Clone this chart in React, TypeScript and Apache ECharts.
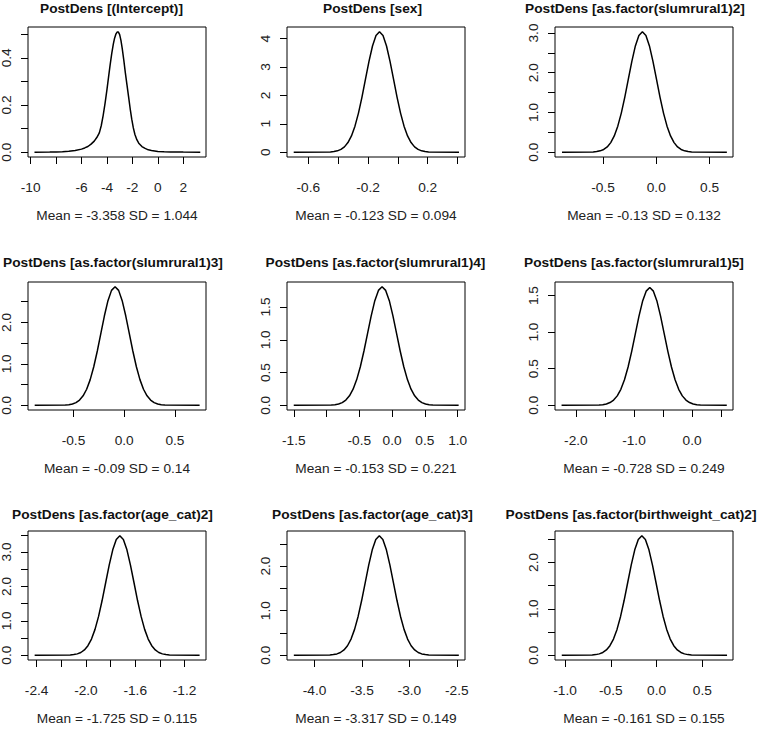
import React, { useEffect, useRef } from "react";
import * as echarts from "echarts";

// ---------- data ----------
const panelTitles = [
  "PostDens [(Intercept)]",
  "PostDens [sex]",
  "PostDens [as.factor(slumrural1)2]",
  "PostDens [as.factor(slumrural1)3]",
  "PostDens [as.factor(slumrural1)4]",
  "PostDens [as.factor(slumrural1)5]",
  "PostDens [as.factor(age_cat)2]",
  "PostDens [as.factor(age_cat)3]",
  "PostDens [as.factor(birthweight_cat)2]",
];

const meanLabels = [
  "Mean = -3.358 SD = 1.044",
  "Mean = -0.123 SD = 0.094",
  "Mean = -0.13 SD = 0.132",
  "Mean = -0.09 SD = 0.14",
  "Mean = -0.153 SD = 0.221",
  "Mean = -0.728 SD = 0.249",
  "Mean = -1.725 SD = 0.115",
  "Mean = -3.317 SD = 0.149",
  "Mean = -0.161 SD = 0.155",
];

const curveIntercept = [
  [-9.7, 0], [-8.5, 0.0005], [-8, 0.001], [-7.5, 0.002], [-7, 0.004], [-6.5, 0.007],
  [-6, 0.013], [-5.75, 0.018], [-5.5, 0.024], [-5.25, 0.034], [-5, 0.047], [-4.8, 0.062],
  [-4.6, 0.082], [-4.45, 0.112], [-4.3, 0.155], [-4.15, 0.207], [-4.0, 0.265],
  [-3.875, 0.318], [-3.75, 0.37], [-3.625, 0.418], [-3.5, 0.458], [-3.4, 0.483],
  [-3.3, 0.5], [-3.2, 0.509], [-3.1, 0.509], [-3.0, 0.498], [-2.9, 0.474],
  [-2.8, 0.44], [-2.675, 0.39], [-2.55, 0.335], [-2.425, 0.285], [-2.3, 0.235],
  [-2.175, 0.185], [-2.05, 0.14], [-1.925, 0.103], [-1.8, 0.075], [-1.65, 0.053],
  [-1.5, 0.038], [-1.25, 0.024], [-1.0, 0.016], [-0.75, 0.01], [-0.5, 0.007],
  [0, 0.003], [0.5, 0.0015], [1, 0.001], [2, 0.0003], [3.34, 0],
];
const curveSex = [
  [-0.698, 0], [-0.452, 0.009], [-0.4285, 0.022], [-0.405, 0.047], [-0.3815, 0.097],
  [-0.358, 0.186], [-0.3345, 0.338], [-0.311, 0.574], [-0.2875, 0.917], [-0.264, 1.377],
  [-0.2405, 1.941], [-0.217, 2.572], [-0.1935, 3.2], [-0.17, 3.742], [-0.1465, 4.109],
  [-0.123, 4.24], [-0.0995, 4.109], [-0.076, 3.742], [-0.0525, 3.2], [-0.029, 2.572],
  [-0.0055, 1.941], [0.018, 1.377], [0.0415, 0.917], [0.065, 0.574], [0.0885, 0.338],
  [0.112, 0.186], [0.1355, 0.097], [0.159, 0.047], [0.1825, 0.022], [0.206, 0.009],
  [0.41, 0],
];
const curveSlum2 = [
  [-0.884, 0], [-0.592, 0.007], [-0.559, 0.015], [-0.526, 0.034], [-0.493, 0.069],
  [-0.46, 0.133], [-0.427, 0.241], [-0.394, 0.41], [-0.361, 0.655], [-0.328, 0.984],
  [-0.295, 1.387], [-0.262, 1.838], [-0.229, 2.287], [-0.196, 2.674], [-0.163, 2.937],
  [-0.13, 3.03], [-0.097, 2.937], [-0.064, 2.674], [-0.031, 2.287], [0.002, 1.838],
  [0.035, 1.387], [0.068, 0.984], [0.101, 0.655], [0.134, 0.41], [0.167, 0.241],
  [0.2, 0.133], [0.233, 0.069], [0.266, 0.034], [0.299, 0.015], [0.332, 0.007],
  [0.6625, 0],
];
const curveSlum3 = [
  [-0.882, 0], [-0.58, 0.006], [-0.545, 0.015], [-0.51, 0.032], [-0.475, 0.065],
  [-0.44, 0.126], [-0.405, 0.228], [-0.37, 0.387], [-0.335, 0.619], [-0.3, 0.929],
  [-0.265, 1.309], [-0.23, 1.735], [-0.195, 2.159], [-0.16, 2.524], [-0.125, 2.772],
  [-0.09, 2.86], [-0.055, 2.772], [-0.02, 2.524], [0.015, 2.159], [0.05, 1.735],
  [0.085, 1.309], [0.12, 0.929], [0.155, 0.619], [0.19, 0.387], [0.225, 0.228],
  [0.26, 0.126], [0.295, 0.065], [0.33, 0.032], [0.365, 0.015], [0.4, 0.006],
  [0.743, 0],
];
const curveSlum4 = [
  [-1.5, 0], [-0.9265, 0.004], [-0.8713, 0.009], [-0.816, 0.02], [-0.7608, 0.041],
  [-0.7055, 0.08], [-0.6503, 0.144], [-0.595, 0.245], [-0.5398, 0.392], [-0.4845, 0.588],
  [-0.4293, 0.829], [-0.374, 1.098], [-0.3188, 1.366], [-0.2635, 1.597], [-0.2083, 1.754],
  [-0.153, 1.81], [-0.0978, 1.754], [-0.0425, 1.597], [0.0128, 1.366], [0.068, 1.098],
  [0.1233, 0.829], [0.1785, 0.588], [0.2338, 0.392], [0.289, 0.245], [0.3443, 0.144],
  [0.3995, 0.08], [0.4548, 0.041], [0.51, 0.02], [0.5653, 0.009], [0.6205, 0.004],
  [1.015, 0],
];
const curveSlum5 = [
  [-2.247, 0], [-1.6, 0.0035], [-1.5373, 0.008], [-1.475, 0.018], [-1.4128, 0.037],
  [-1.3505, 0.071], [-1.2883, 0.128], [-1.226, 0.218], [-1.1638, 0.348], [-1.1015, 0.523],
  [-1.0393, 0.737], [-0.977, 0.977], [-0.9148, 1.215], [-0.8525, 1.421], [-0.7903, 1.56],
  [-0.728, 1.61], [-0.6658, 1.56], [-0.6035, 1.421], [-0.5413, 1.215], [-0.479, 0.977],
  [-0.4168, 0.737], [-0.3545, 0.523], [-0.2923, 0.348], [-0.23, 0.218], [-0.1678, 0.128],
  [-0.1055, 0.071], [-0.0433, 0.037], [0.019, 0.018], [0.0813, 0.008], [0.1435, 0.0035],
  [0.598, 0],
];
const curveAge2 = [
  [-2.416, 0], [-2.1275, 0.008], [-2.0988, 0.018], [-2.07, 0.039], [-2.0413, 0.079],
  [-2.0125, 0.152], [-1.9838, 0.276], [-1.955, 0.47], [-1.9263, 0.751], [-1.8975, 1.127],
  [-1.8688, 1.589], [-1.84, 2.105], [-1.8113, 2.619], [-1.7825, 3.062], [-1.7538, 3.363],
  [-1.725, 3.47], [-1.6963, 3.363], [-1.6675, 3.062], [-1.6388, 2.619], [-1.61, 2.105],
  [-1.5813, 1.589], [-1.5525, 1.127], [-1.5238, 0.751], [-1.495, 0.47], [-1.4663, 0.276],
  [-1.4375, 0.152], [-1.4088, 0.079], [-1.38, 0.039], [-1.3513, 0.018], [-1.3225, 0.008],
  [-1.078, 0],
];
const curveAge3 = [
  [-4.218, 0], [-3.8385, 0.006], [-3.8013, 0.014], [-3.764, 0.03], [-3.7268, 0.061],
  [-3.6895, 0.118], [-3.6523, 0.213], [-3.615, 0.363], [-3.5778, 0.58], [-3.5405, 0.87],
  [-3.5033, 1.227], [-3.466, 1.625], [-3.4288, 2.023], [-3.3915, 2.365], [-3.3543, 2.598],
  [-3.317, 2.68], [-3.2798, 2.598], [-3.2425, 2.365], [-3.2053, 2.023], [-3.168, 1.625],
  [-3.1308, 1.227], [-3.0935, 0.87], [-3.0563, 0.58], [-3.019, 0.363], [-2.9818, 0.213],
  [-2.9445, 0.118], [-2.9073, 0.061], [-2.87, 0.03], [-2.8328, 0.014], [-2.7955, 0.006],
  [-2.479, 0],
];
const curveBirth2 = [
  [-1.036, 0], [-0.7035, 0.006], [-0.6648, 0.013], [-0.626, 0.029], [-0.5873, 0.059],
  [-0.5485, 0.113], [-0.5098, 0.205], [-0.471, 0.348], [-0.4323, 0.557], [-0.3935, 0.836],
  [-0.3548, 1.179], [-0.316, 1.562], [-0.2773, 1.944], [-0.2385, 2.272], [-0.1998, 2.496],
  [-0.161, 2.575], [-0.1223, 2.496], [-0.0835, 2.272], [-0.0448, 1.944], [-0.006, 1.562],
  [0.0328, 1.179], [0.0715, 0.836], [0.1103, 0.557], [0.149, 0.348], [0.1878, 0.205],
  [0.2265, 0.113], [0.2653, 0.059], [0.304, 0.029], [0.3428, 0.013], [0.3815, 0.006],
  [0.77, 0],
];
const curves = [
  curveIntercept, curveSex, curveSlum2, curveSlum3, curveSlum4,
  curveSlum5, curveAge2, curveAge3, curveBirth2,
];

// axis ranges (R: data range extended by 4%)
const xRanges = [
  [-10.21, 3.79], [-0.743, 0.45], [-0.95, 0.72], [-0.948, 0.806], [-1.603, 1.112],
  [-2.36, 0.705], [-2.47, -1.026], [-4.29, -2.414], [-1.11, 0.835],
];
const yRanges = [
  [-0.0204, 0.5304], [-0.17, 4.41], [-0.121, 3.151], [-0.114, 2.974], [-0.072, 1.882],
  [-0.065, 1.685], [-0.139, 3.609], [-0.107, 2.787], [-0.103, 2.678],
];

// ticks and labels
const xTicks = [
  [-10, -8, -6, -4, -2, 0, 2],
  [-0.6, -0.4, -0.2, 0, 0.2, 0.4],
  [-0.5, 0, 0.5],
  [-0.5, 0, 0.5],
  [-1.5, -1.0, -0.5, 0, 0.5, 1.0],
  [-2.0, -1.5, -1.0, -0.5, 0, 0.5],
  [-2.4, -2.2, -2.0, -1.8, -1.6, -1.4, -1.2],
  [-4.0, -3.5, -3.0, -2.5],
  [-1.0, -0.5, 0, 0.5],
];
const xLabels = [
  [-10, -6, -4, -2, 0, 2],
  [-0.6, -0.2, 0.2],
  [-0.5, 0, 0.5],
  [-0.5, 0, 0.5],
  [-1.5, -0.5, 0, 0.5, 1.0],
  [-2.0, -1.0, 0],
  [-2.4, -2.0, -1.6, -1.2],
  [-4.0, -3.5, -3.0, -2.5],
  [-1.0, -0.5, 0, 0.5],
];
const xDecimals = [0, 1, 1, 1, 1, 1, 1, 1, 1];
const yTicks = [
  [0, 0.1, 0.2, 0.3, 0.4, 0.5],
  [0, 1, 2, 3, 4],
  [0, 0.5, 1.0, 1.5, 2.0, 2.5, 3.0],
  [0, 0.5, 1.0, 1.5, 2.0, 2.5],
  [0, 0.5, 1.0, 1.5],
  [0, 0.5, 1.0, 1.5],
  [0, 0.5, 1.0, 1.5, 2.0, 2.5, 3.0, 3.5],
  [0, 0.5, 1.0, 1.5, 2.0, 2.5],
  [0, 0.5, 1.0, 1.5, 2.0, 2.5],
];
const yLabels = [
  [0, 0.2, 0.4],
  [0, 1, 2, 3, 4],
  [0, 1.0, 2.0, 3.0],
  [0, 1.0, 2.0],
  [0, 0.5, 1.0, 1.5],
  [0, 0.5, 1.0, 1.5],
  [0, 1.0, 2.0, 3.0],
  [0, 1.0, 2.0],
  [0, 1.0, 2.0],
];
const yDecimals = [1, 0, 1, 1, 1, 1, 1, 1, 1];

// ---------- layout ----------
const COL_LEFT = [28, 287, 555];
const BOX_W = 178;
const ROW_TOP = [27, 282, 531];
const ROW_H = [130, 128, 129];
const TITLE_X = [111.5, 372.5, 635, 113, 375.5, 634, 112.5, 372.5, 631];
const TITLE_Y = [8, 262.5, 514];
const FONT = "'Liberation Sans', Arial, Helvetica, sans-serif";
const FS = 13.7;
const TEXT = "#222";

export default function App() {
  const ref = useRef<HTMLDivElement>(null);
  useEffect(() => {
    if (!ref.current) return;
    const chart = echarts.init(ref.current, null, { renderer: "svg", width: 760, height: 729 });
    const grid: any[] = [];
    const xAxis: any[] = [];
    const yAxis: any[] = [];
    const series: any[] = [];
    const graphic: any[] = [];
    for (let i = 0; i < 9; i++) {
      const r = Math.floor(i / 3);
      const c = i % 3;
      grid.push({
        left: COL_LEFT[c], top: ROW_TOP[r], width: BOX_W, height: ROW_H[r],
        show: true, borderColor: "#000", borderWidth: 1, backgroundColor: "transparent",
        containLabel: false, outerBoundsMode: "none",
      });
      const xd = xDecimals[i];
      const yd = yDecimals[i];
      xAxis.push({
        gridIndex: i, type: "value", position: "bottom", min: xRanges[i][0], max: xRanges[i][1],
        axisLine: { show: false, onZero: false }, splitLine: { show: false },
        axisTick: { show: true, length: 7, lineStyle: { color: "#000", width: 1 }, customValues: xTicks[i] },
        axisLabel: {
          customValues: xLabels[i], margin: 23, fontSize: FS, fontFamily: FONT, color: TEXT,
          formatter: (v: number) => v.toFixed(xd),
        },
        name: meanLabels[i], nameLocation: "middle", nameGap: 51,
        nameTextStyle: { fontSize: FS, fontFamily: FONT, color: TEXT },
      });
      yAxis.push({
        gridIndex: i, type: "value", position: "left", min: yRanges[i][0], max: yRanges[i][1],
        axisLine: { show: false, onZero: false }, splitLine: { show: false },
        axisTick: { show: true, length: 7, lineStyle: { color: "#000", width: 1 }, customValues: yTicks[i] },
        axisLabel: {
          customValues: yLabels[i], rotate: 90, margin: 14.5, fontSize: FS, fontFamily: FONT, color: TEXT,
          formatter: (v: number) => v.toFixed(yd),
        },
      });
      series.push({
        type: "line", xAxisIndex: i, yAxisIndex: i, data: curves[i],
        showSymbol: false, symbol: "none", smooth: false,
        lineStyle: { color: "#000", width: 1.5 }, silent: true,
      });
      graphic.push({
        type: "text", x: TITLE_X[i], y: TITLE_Y[r],
        style: {
          text: panelTitles[i], fontSize: FS, fontWeight: "bold", fontFamily: FONT, fill: "#111",
          align: "center", verticalAlign: "middle", textAlign: "center", textVerticalAlign: "middle",
        },
      });
    }
    chart.setOption({
      animation: false,
      backgroundColor: "#fff",
      grid, xAxis, yAxis, series, graphic,
    });
    return () => chart.dispose();
  }, []);
  return (
    <div
      ref={ref}
      style={{ position: "fixed", left: 0, top: 0, width: 760, height: 729, background: "#fff" }}
    />
  );
}
